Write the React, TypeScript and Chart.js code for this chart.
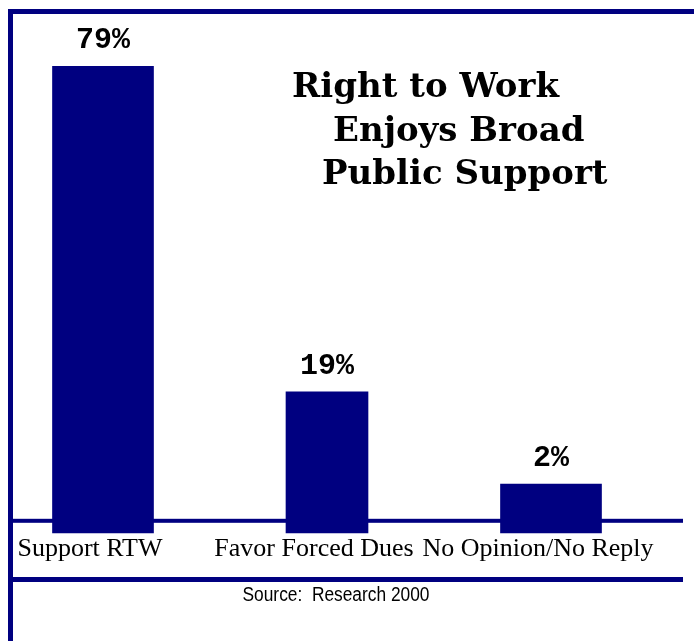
import { useEffect, useRef } from 'react';
import { Chart, registerables } from 'chart.js';

Chart.register(...registerables);

// ---- data ----
const categories = ['Support RTW', 'Favor Forced Dues', 'No Opinion/No Reply'];
const supportValues = [79, 19, 2];
const valueLabels = ['79%', '19%', '2%'];
const titleLines = ['Right to Work', 'Enjoys Broad', 'Public Support'];
const sourceText = 'Source:  Research 2000';

// ---- styling / layout ----
const NAVY = '#000080';
const AXIS_MIN = -7;
const AXIS_MAX = 89;
const BAR_WIDTHS = [101, 82, 101];
const TITLE_X = [292, 333, 322];
const TITLE_BASELINE = [97, 141, 184];
const W = 694;
const H = 641;

const decorPlugin = {
  id: 'decor',
  beforeDraw(chart: any) {
    const ctx = chart.ctx;
    ctx.save();
    ctx.fillStyle = '#ffffff';
    ctx.fillRect(0, 0, chart.width, chart.height);
    ctx.restore();
  },
  afterDraw(chart: any) {
    const ctx = chart.ctx;
    const area = chart.chartArea;
    ctx.save();
    // frame
    ctx.fillStyle = NAVY;
    ctx.fillRect(8, 9, W - 8, 5);
    ctx.fillRect(8, 9, 5, H - 9);
    // baseline and separator lines
    ctx.fillRect(13, area.bottom - 14, 670, 4);
    ctx.fillRect(13, 577, 670, 5);

    // value labels above bars
    ctx.fillStyle = '#000000';
    ctx.font = 'bold 30px "Liberation Mono", "DejaVu Sans Mono", monospace';
    ctx.textAlign = 'center';
    ctx.textBaseline = 'alphabetic';
    chart.data.datasets.forEach((ds: any, i: number) => {
      const meta = chart.getDatasetMeta(i);
      const el = meta.data[i];
      if (!el) return;
      ctx.fillText(valueLabels[i], el.x, el.y - 18);
    });

    // title
    ctx.textAlign = 'left';
    ctx.font = 'bold 34px "DejaVu Serif", serif';
    titleLines.forEach((t, i) => ctx.fillText(t, TITLE_X[i], TITLE_BASELINE[i]));

    // source (narrow sans)
    ctx.textAlign = 'center';
    ctx.font = '20px "Liberation Sans", Arial, sans-serif';
    ctx.translate(336, 601);
    ctx.scale(0.867, 1);
    ctx.fillText(sourceText, 0, 0);
    ctx.restore();
  },
};

export default function App() {
  const ref = useRef<HTMLCanvasElement | null>(null);
  useEffect(() => {
    if (!ref.current) return;
    const chart = new Chart(ref.current, {
      type: 'bar',
      data: {
        labels: categories,
        datasets: supportValues.map((v, i) => ({
          label: categories[i],
          data: categories.map((_, j) => (j === i ? v : null)),
          backgroundColor: NAVY,
          borderWidth: 0,
          barThickness: BAR_WIDTHS[i],
          base: AXIS_MIN,
          grouped: false,
          clip: false,
        })) as any,
      },
      options: {
        responsive: false,
        maintainAspectRatio: false,
        animation: false,
        layout: { padding: { left: 103, right: 143, top: 12, bottom: 75 } },
        plugins: {
          legend: { display: false },
          tooltip: { enabled: false },
          title: { display: false },
        },
        scales: {
          x: {
            type: 'category',
            offset: false,
            grid: { display: false, drawTicks: false },
            border: { display: false },
            ticks: {
              autoSkip: false,
              maxRotation: 0,
              minRotation: 0,
              labelOffset: -13,
              padding: 1,
              color: '#000000',
              font: { family: '"Liberation Serif", "Times New Roman", serif', size: 26 },
            },
          },
          y: { display: false, min: AXIS_MIN, max: AXIS_MAX },
        },
      },
      plugins: [decorPlugin],
    });
    return () => chart.destroy();
  }, []);
  return (
    <div style={{ position: 'fixed', left: 0, top: 0, width: W, height: H, background: '#fff' }}>
      <canvas ref={ref} width={W} height={H} style={{ display: 'block' }} />
    </div>
  );
}
